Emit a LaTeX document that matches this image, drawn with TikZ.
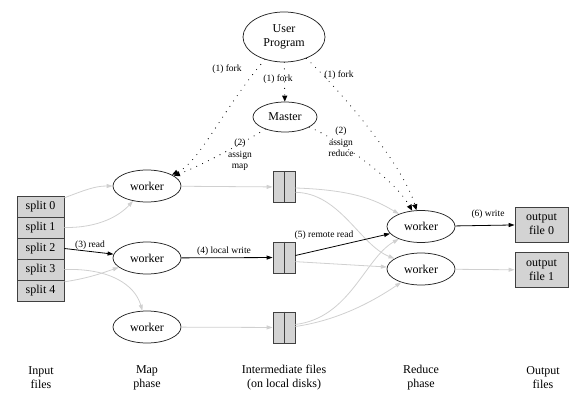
\documentclass[tikz,border=0pt]{standalone}
\usepackage{fontspec}
\setmainfont{Liberation Serif}
\usetikzlibrary{shapes.geometric,arrows.meta}
\definecolor{boxfill}{HTML}{D3D3D3}
\definecolor{lightedge}{HTML}{D0D0D0}
\begin{document}
\begin{tikzpicture}[x=1pt,y=-1pt,
  every node/.style={font=\fontsize{12}{13.5}\selectfont, inner sep=0pt},
  proc/.style={ellipse, draw=black!85, line width=0.75pt, minimum width=68pt, minimum height=32pt, align=center},
  splitbox/.style={rectangle, draw=black!75, line width=0.75pt, fill=boxfill, minimum width=47pt, minimum height=21pt},
  filebox/.style={rectangle, draw=black!75, line width=0.75pt, fill=boxfill, minimum width=22pt, minimum height=31pt},
  outbox/.style={rectangle, draw=black!75, line width=0.75pt, fill=boxfill, minimum width=53pt, minimum height=35pt, align=center, font=\fontsize{12}{14}\selectfont},
  lbl/.style={font=\fontsize{9.5}{11.5}\selectfont, align=center},
  caption/.style={align=center, font=\fontsize{12}{14}\selectfont},
  hot/.style={draw=black, line width=0.8pt, -{Triangle[length=6pt,width=4pt]}},
  cold/.style={draw=lightedge, line width=0.8pt, -{Triangle[length=6pt,width=4pt,fill=lightedge]}},
  fork/.style={draw=black, line width=1.1pt, line cap=round, dash pattern=on 0pt off 6.5pt, -{Triangle[length=6pt,width=5pt]}},
]
\path[use as bounding box] (0,0) rectangle (580,415);

% processes
\node[proc, minimum width=82pt, minimum height=50pt] (up) at (284,37) {User\\Program};
\node[proc, minimum width=64pt, minimum height=30pt] (master) at (285,117) {Master};
\node[proc] (m1) at (147,186) {worker};
\node[proc] (m2) at (147,258) {worker};
\node[proc] (m3) at (147,327) {worker};
\node[proc] (r1) at (421,226.5) {worker};
\node[proc] (r2) at (421,269) {worker};

% input splits
\node[splitbox] (s0) at (40.5,206.5) {split 0};
\node[splitbox] (s1) at (40.5,227.5) {split 1};
\node[splitbox] (s2) at (40.5,248.5) {split 2};
\node[splitbox] (s3) at (40.5,269.5) {split 3};
\node[splitbox] (s4) at (40.5,290.5) {split 4};

% intermediate files
\node[filebox] (f1) at (284,187) {};
\node[filebox] (f2) at (284,257.5) {};
\node[filebox] (f3) at (284,327.5) {};
\foreach \f in {f1,f2,f3}{\draw[draw=black!75, line width=0.75pt] (\f.north) -- (\f.south);}

% output files
\node[outbox] (o0) at (541.5,224.5) {output\\file 0};
\node[outbox] (o1) at (541.5,270) {output\\file 1};

% fork / assign (dotted)
\draw[fork] (up) .. controls (222,110) and (200,162) .. (m1);
\draw[fork] (up) -- (master);
\draw[fork] (up) .. controls (350,100) and (405,170) .. (r1);
\draw[fork] (master) .. controls (238,146) and (200,166) .. (m1);
\draw[fork] (master) .. controls (340,140) and (395,180) .. (r1);

\node[lbl] (lf1) at (227,69) {(1) fork};
\node[lbl] (lf2) at (278,79) {(1) fork};
\node[lbl] (lf3) at (339,75) {(1) fork};
\node[lbl] (la1) at (240,155) {(2)\\assign\\map};
\node[lbl] (la2) at (341,142) {(2)\\assign\\reduce};

% splits to map workers
\draw[cold] (s0.20) .. controls (85,190) and (95,186) .. (m1);
\draw[cold] (s1.east) .. controls (100,228) and (120,215) .. (m1);
\draw[hot] (s2.east) -- (m2);
\draw[cold] (s3.east) .. controls (110,268) and (135,285) .. (m3);
\draw[cold] (s4.20) .. controls (90,278) and (105,272) .. (m2);
\node[lbl] (lr) at (90,245) {(3) read};

% map workers to intermediate files
\draw[cold] (m1) -- (f1);
\draw[hot] (m2) -- (f2);
\draw[cold] (m3) -- (f3);
\node[lbl] (lw) at (224,251) {(4) local write};

% intermediate files to reduce workers
\draw[cold] (f1.-5) .. controls (360,190) and (380,203) .. (r1);
\draw[cold] (f1.-25) .. controls (340,193) and (360,245) .. (r2);
\draw[hot] (f2.10) -- (r1);
\draw[cold] (f2.-20) -- (r2);
\draw[cold] (f3.15) .. controls (350,318) and (365,258) .. (r1);
\draw[cold] (f3.5) .. controls (340,320) and (375,300) .. (r2);
\node[lbl] (lrr) at (324,235) {(5) remote read};

% reduce workers to outputs
\draw[hot] (r1) -- (o0);
\draw[cold] (r2) -- (o1);
\node[lbl] (lwo) at (488,214) {(6) write};

% captions
\node[caption] (cin) at (41,378) {Input\\files};
\node[caption] (cmap) at (147,378) {Map\\phase};
\node[caption] (cint) at (284,378) {Intermediate files\\(on local disks)};
\node[caption] (cred) at (421,378) {Reduce\\phase};
\node[caption] (cout) at (543,378) {Output\\files};
\end{tikzpicture}
\end{document}
